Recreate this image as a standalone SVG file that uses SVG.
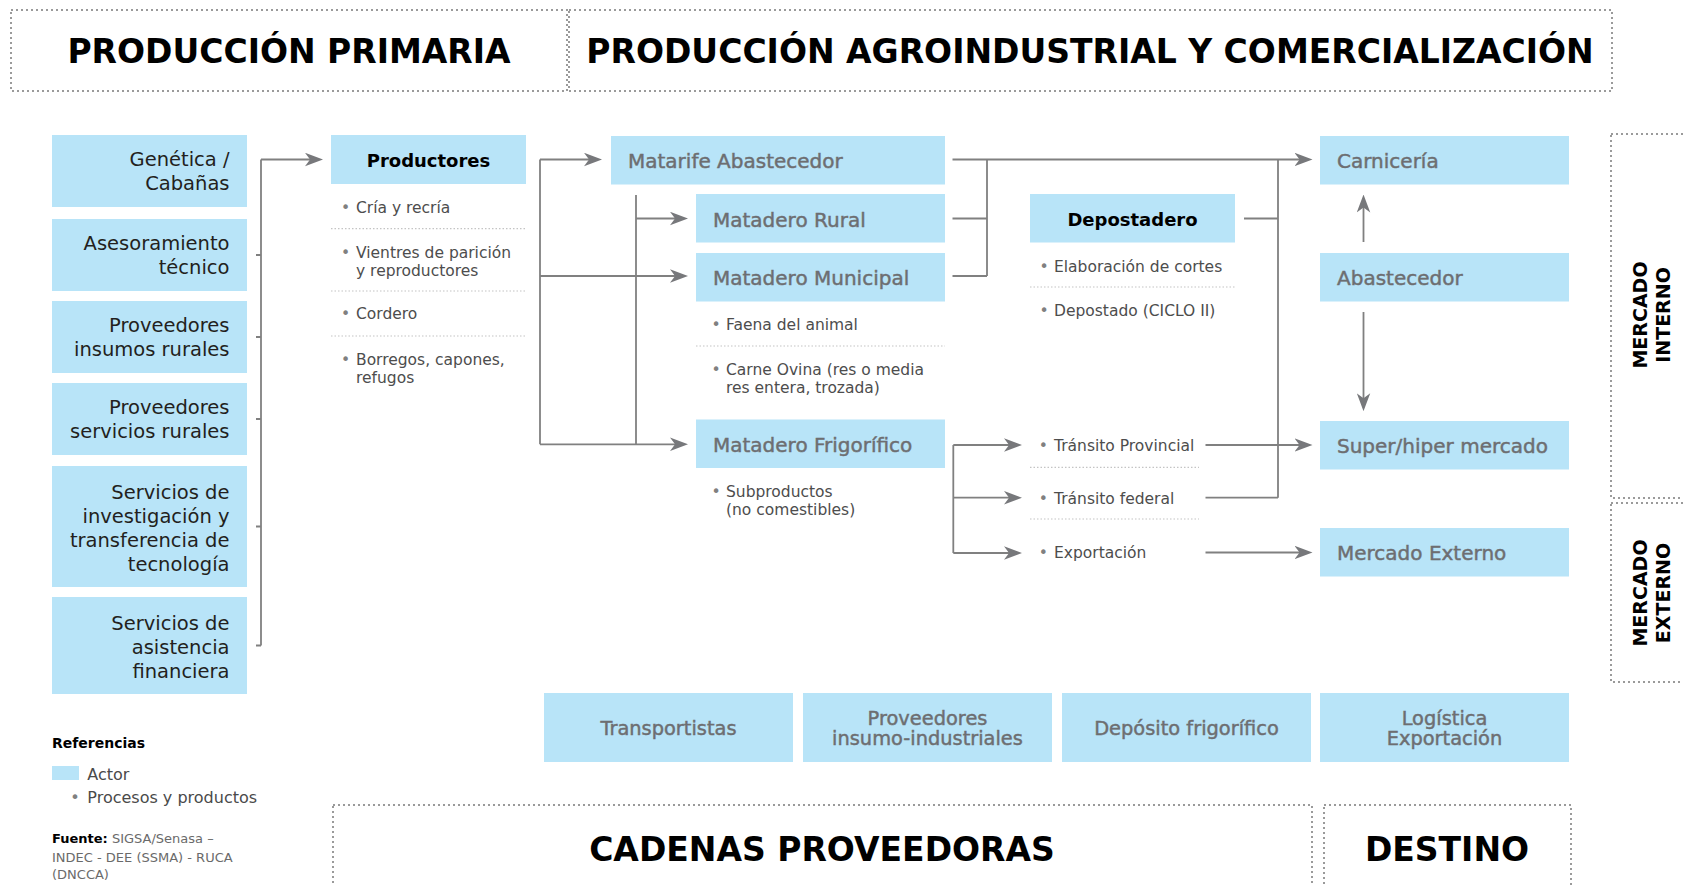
<svg xmlns="http://www.w3.org/2000/svg" width="1683" height="886" viewBox="0 0 1683 886">
<style>
text{font-family:"DejaVu Sans","Liberation Sans",sans-serif}
.actor{fill:#b8e4f8}
.frame{fill:none;stroke:#9a9a9a;stroke-width:2;stroke-dasharray:2 3}
.sep{fill:none;stroke:#c4c4c4;stroke-width:1.2;stroke-dasharray:1.5 2}
.title{font-weight:bold;font-size:33px;fill:#000}
.title2{font-weight:bold;font-size:33px;fill:#000}
.side{font-weight:bold;font-size:19px;fill:#000}
.lt{font-size:19.5px;fill:#231f20;text-anchor:end}
.gt{font-size:20px;fill:#6d6e71;stroke:#6d6e71;stroke-width:0.45}
.bt{font-size:19.4px;fill:#6d6e71;stroke:#6d6e71;stroke-width:0.45;text-anchor:middle}
.bk{font-size:18px;font-weight:bold;fill:#000;text-anchor:middle}
.it{font-size:15.5px;fill:#4d4d4d}
.bul{fill:#808080}
.ln{fill:none;stroke:#808080;stroke-width:1.8}
.ref{font-size:16px;fill:#4a4a4a}
.src{font-size:13px;fill:#6a6a6a}
</style>
<defs>
<marker id="ah" markerUnits="userSpaceOnUse" markerWidth="18" markerHeight="14" viewBox="0 0 16 12" refX="12" refY="6" orient="auto">
<path d="M0,0 L16,6 L0,12 L4.5,6 Z" fill="#77787b"/>
</marker>
</defs>

<g id="frames">
<rect class="frame" x="11" y="10" width="556" height="81"/>
<rect class="frame" x="569" y="10" width="1043" height="81"/>
<rect class="frame" x="333" y="805" width="979" height="120"/>
<rect class="frame" x="1324" y="805" width="247" height="120"/>
<rect class="frame" x="1611" y="134" width="120" height="364"/>
<rect class="frame" x="1611" y="503" width="120" height="179"/>
<text class="title" x="289" y="63" text-anchor="middle">PRODUCCIÓN PRIMARIA</text>
<text class="title" x="1090" y="63" text-anchor="middle">PRODUCCIÓN AGROINDUSTRIAL Y COMERCIALIZACIÓN</text>
<text class="title2" x="822" y="861" text-anchor="middle">CADENAS PROVEEDORAS</text>
<text class="title2" x="1447" y="861" text-anchor="middle">DESTINO</text>
<text class="side" transform="translate(1646.5,315) rotate(-90)" text-anchor="middle">MERCADO</text>
<text class="side" transform="translate(1670,315) rotate(-90)" text-anchor="middle">INTERNO</text>
<text class="side" transform="translate(1646.5,593) rotate(-90)" text-anchor="middle">MERCADO</text>
<text class="side" transform="translate(1670,593) rotate(-90)" text-anchor="middle">EXTERNO</text>
</g>

<g id="connectors">
<path class="ln" d="M261,159.5 V645.5"/>
<path class="ln" d="M256,255 H261 M256,337 H261 M256,419 H261 M256,526.5 H261 M256,645.5 H261"/>
<path class="ln" d="M261,159.5 H318.5" marker-end="url(#ah)"/>
<path class="ln" d="M540,159.5 V444.3"/>
<path class="ln" d="M540,159.5 H597.5" marker-end="url(#ah)"/>
<path class="ln" d="M540,276 H683.5" marker-end="url(#ah)"/>
<path class="ln" d="M540,444.3 H683.5" marker-end="url(#ah)"/>
<path class="ln" d="M636,195 V444.3"/>
<path class="ln" d="M636,218.5 H683.5" marker-end="url(#ah)"/>
<path class="ln" d="M952.5,218.5 H987 M952.5,276 H987 M987,159.5 V276"/>
<path class="ln" d="M952.5,159.5 H1308" marker-end="url(#ah)"/>
<path class="ln" d="M1244,218.5 H1278 M1205.5,497.7 H1278 M1278,159.5 V497.7"/>
<path class="ln" d="M953.3,445 V553"/>
<path class="ln" d="M953.3,445 H1017.5" marker-end="url(#ah)"/>
<path class="ln" d="M953.3,497.7 H1017.5" marker-end="url(#ah)"/>
<path class="ln" d="M953.3,553 H1017.5" marker-end="url(#ah)"/>
<path class="ln" d="M1205.5,445 H1308" marker-end="url(#ah)"/>
<path class="ln" d="M1205.5,552.5 H1308" marker-end="url(#ah)"/>
<path class="ln" d="M1363.5,242 V199" marker-end="url(#ah)"/>
<path class="ln" d="M1363.5,312 V406.7" marker-end="url(#ah)"/>
</g>

<g id="genetica"><rect class="actor" x="52" y="135" width="195" height="72"/>
<text class="lt" x="229.5" y="166">Genética /</text><text class="lt" x="229.5" y="190">Cabañas</text></g>
<g id="asesoramiento"><rect class="actor" x="52" y="219" width="195" height="72"/>
<text class="lt" x="229.5" y="250">Asesoramiento</text><text class="lt" x="229.5" y="274">técnico</text></g>
<g id="prov-insumos"><rect class="actor" x="52" y="301" width="195" height="72"/>
<text class="lt" x="229.5" y="332">Proveedores</text><text class="lt" x="229.5" y="356">insumos rurales</text></g>
<g id="prov-servicios"><rect class="actor" x="52" y="383" width="195" height="72"/>
<text class="lt" x="229.5" y="414">Proveedores</text><text class="lt" x="229.5" y="438">servicios rurales</text></g>
<g id="serv-investigacion"><rect class="actor" x="52" y="466" width="195" height="121"/>
<text class="lt" x="229.5" y="499">Servicios de</text><text class="lt" x="229.5" y="523">investigación y</text><text class="lt" x="229.5" y="547">transferencia de</text><text class="lt" x="229.5" y="571">tecnología</text></g>
<g id="serv-financiera"><rect class="actor" x="52" y="597" width="195" height="97"/>
<text class="lt" x="229.5" y="629.5">Servicios de</text><text class="lt" x="229.5" y="653.5">asistencia</text><text class="lt" x="229.5" y="677.5">financiera</text></g>

<g id="productores"><rect class="actor" x="331" y="135" width="195" height="49"/>
<text class="bk" x="428.5" y="166.5">Productores</text>
<text class="it" x="341" y="213.3"><tspan class="bul">•</tspan><tspan x="356">Cría y recría</tspan></text>
<path class="sep" d="M331,228.7 H526"/>
<text class="it" x="341" y="258.3"><tspan class="bul">•</tspan><tspan x="356">Vientres de parición</tspan></text>
<text class="it" x="356" y="276">y reproductores</text>
<path class="sep" d="M331,291 H526"/>
<text class="it" x="341" y="319"><tspan class="bul">•</tspan><tspan x="356">Cordero</tspan></text>
<path class="sep" d="M331,336 H526"/>
<text class="it" x="341" y="365"><tspan class="bul">•</tspan><tspan x="356">Borregos, capones,</tspan></text>
<text class="it" x="356" y="383">refugos</text></g>

<g id="matarife"><rect class="actor" x="611" y="136" width="334" height="48.5"/>
<text class="gt" x="628" y="168.3">Matarife Abastecedor</text></g>
<g id="matadero-rural"><rect class="actor" x="696" y="194" width="249" height="48.5"/>
<text class="gt" x="713" y="226.7">Matadero Rural</text></g>
<g id="matadero-municipal"><rect class="actor" x="696" y="253" width="249" height="48.5"/>
<text class="gt" x="713" y="285">Matadero Municipal</text>
<text class="it" x="711.4" y="330"><tspan class="bul">•</tspan><tspan x="726">Faena del animal</tspan></text>
<path class="sep" d="M696,346 H945"/>
<text class="it" x="711.4" y="375"><tspan class="bul">•</tspan><tspan x="726">Carne Ovina (res o media</tspan></text>
<text class="it" x="726" y="392.7">res entera, trozada)</text></g>
<g id="matadero-frigorifico"><rect class="actor" x="696" y="419.5" width="249" height="48.5"/>
<text class="gt" x="713" y="452.3">Matadero Frigorífico</text>
<text class="it" x="711.4" y="496.7"><tspan class="bul">•</tspan><tspan x="726">Subproductos</tspan></text>
<text class="it" x="726" y="515">(no comestibles)</text></g>

<g id="depostadero"><rect class="actor" x="1030" y="194" width="205" height="48.5"/>
<text class="bk" x="1132.5" y="225.5">Depostadero</text>
<text class="it" x="1039.4" y="271.7"><tspan class="bul">•</tspan><tspan x="1054">Elaboración de cortes</tspan></text>
<path class="sep" d="M1030,287 H1235"/>
<text class="it" x="1039.4" y="316"><tspan class="bul">•</tspan><tspan x="1054">Depostado (CICLO II)</tspan></text></g>

<g id="transito">
<text class="it" x="1038.7" y="451"><tspan class="bul">•</tspan><tspan x="1054">Tránsito Provincial</tspan></text>
<path class="sep" d="M1030,467.3 H1199"/>
<text class="it" x="1038.7" y="504"><tspan class="bul">•</tspan><tspan x="1054">Tránsito federal</tspan></text>
<path class="sep" d="M1030,519 H1199"/>
<text class="it" x="1038.7" y="557.7"><tspan class="bul">•</tspan><tspan x="1054">Exportación</tspan></text></g>

<g id="carniceria"><rect class="actor" x="1320" y="136" width="249" height="48.5"/>
<text class="gt" x="1337" y="167.7">Carnicería</text></g>
<g id="abastecedor"><rect class="actor" x="1320" y="253" width="249" height="48.5"/>
<text class="gt" x="1337" y="285">Abastecedor</text></g>
<g id="super-hiper"><rect class="actor" x="1320" y="421" width="249" height="48.5"/>
<text class="gt" x="1337" y="452.7">Super/hiper mercado</text></g>
<g id="mercado-externo"><rect class="actor" x="1320" y="528" width="249" height="48.5"/>
<text class="gt" x="1337" y="560">Mercado Externo</text></g>

<g id="transportistas"><rect class="actor" x="544" y="693" width="249" height="69"/>
<text class="bt" x="668.5" y="734.5">Transportistas</text></g>
<g id="prov-insumo-industriales"><rect class="actor" x="803" y="693" width="249" height="69"/>
<text class="bt" x="927.5" y="725">Proveedores</text><text class="bt" x="927.5" y="745">insumo-industriales</text></g>
<g id="deposito-frigorifico"><rect class="actor" x="1062" y="693" width="249" height="69"/>
<text class="bt" x="1186.5" y="734.5">Depósito frigorífico</text></g>
<g id="logistica-exportacion"><rect class="actor" x="1320" y="693" width="249" height="69"/>
<text class="bt" x="1444.5" y="725">Logística</text><text class="bt" x="1444.5" y="745">Exportación</text></g>

<g id="referencias">
<text x="52" y="748.3" font-size="14" font-weight="bold" fill="#000">Referencias</text>
<rect class="actor" x="52" y="766" width="27" height="14"/>
<text class="ref" x="87.3" y="780">Actor</text>
<text class="ref" x="70.2" y="802.7"><tspan class="bul">•</tspan><tspan x="87.3">Procesos y productos</tspan></text>
<text class="src" x="52" y="843.3"><tspan font-weight="bold" fill="#000">Fuente:</tspan> SIGSA/Senasa –</text>
<text class="src" x="52" y="861.7">INDEC - DEE (SSMA) - RUCA</text>
<text class="src" x="52" y="879.3">(DNCCA)</text>
</g>
</svg>
